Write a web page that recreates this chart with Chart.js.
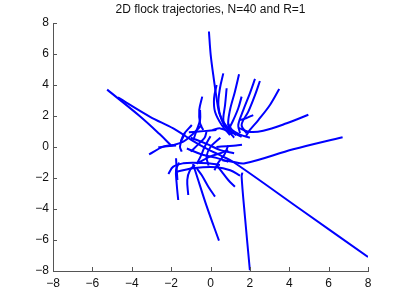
<!DOCTYPE html>
<html>
<head>
<meta charset="utf-8">
<script src="https://cdn.jsdelivr.net/npm/chart.js@4/dist/chart.umd.min.js"></script>
<style>
  html, body { margin: 0; padding: 0; background: #fff; }
  #wrap { width: 407px; height: 306px; }
</style>
</head>
<body>
<div id="wrap"><canvas id="flock"></canvas></div>
<script>
// axis ticks
const xTicks = [-8, -6, -4, -2, 0, 2, 4, 6, 8];
const yTicks = [-8, -6, -4, -2, 0, 2, 4, 6, 8];
const titleText = '2D flock trajectories, N=40 and R=1';

// trajectories, [x, y]
const bird01 = [[-0.08, 7.45], [0.01, 5.94], [0.14, 4.65], [0.31, 3.14], [0.48, 2.06], [0.9, 1.2], [1.3, 0.75]];
const bird02 = [[-5.25, 3.7], [-3.6, 2.0], [-2.6, 0.85], [-2.0, 0.1]];
const bird03 = [[-4.7, 3.2], [-3.07, 1.95], [-1.89, 1.2], [-0.96, 0.45], [-0.2, -0.1], [0.6, -0.6], [1.2, -1.0], [4.6, -4.05], [8.0, -7.1]];
const bird04 = [[6.71, 0.63], [4.2, -0.15], [1.75, -1.05], [1.1, -0.95], [0.6, -0.85]];
const bird05 = [[2.0, -7.95], [1.75, -4.5], [1.58, -1.9], [1.62, -1.65]];
const bird06 = [[0.43, -6.04], [-0.2, -3.8], [-0.79, -1.48], [-0.9, -1.1]];
const bird07 = [[4.97, 2.08], [3.87, 1.53], [2.68, 1.05], [1.92, 0.99], [1.4, 1.25]];
const bird08 = [[3.49, 3.74], [3.02, 2.71], [2.43, 1.74], [2.0, 1.1], [1.8, 0.7]];
const bird09 = [[2.26, 4.39], [2.0, 3.46], [1.67, 2.39], [1.41, 1.42], [1.5, 0.9]];
const bird10 = [[2.51, 4.26], [2.26, 3.35], [1.92, 2.28], [1.58, 1.42], [1.84, 0.88]];
const bird11 = [[1.45, 4.69], [1.24, 3.57], [0.99, 2.39], [0.9, 1.42], [1.1, 0.85]];
const bird12 = [[0.65, 4.75], [0.48, 3.79], [0.4, 2.71], [0.57, 1.74], [0.9, 1.1], [1.58, 0.66]];
const bird13 = [[0.31, 4.0], [0.18, 3.14], [0.23, 2.28], [0.57, 1.42], [0.99, 0.77]];
const bird14 = [[1.58, 3.25], [1.41, 2.5], [1.16, 1.74], [0.95, 1.2]];
const bird15 = [[0.82, 3.79], [0.74, 2.71], [0.65, 1.85], [0.7, 1.3]];
const bird16 = [[-0.42, 3.25], [-0.57, 2.39], [-0.53, 1.53], [-0.37, 1.1]];
const bird17 = [[2.17, 2.06], [1.8, 1.85], [1.5, 1.74]];
const bird18 = [[-3.12, -0.47], [-2.4, 0.02], [-1.89, 0.13], [-1.38, 0.34], [-0.95, 0.77], [-0.45, 1.42]];
const bird19 = [[-2.65, -0.02], [-2.2, 0.05], [-1.75, 0.1]];
const bird20 = [[-0.95, 1.42], [-1.38, 0.77], [-1.55, 0.02], [-1.46, -0.3]];
const bird21 = [[-0.53, 2.39], [-0.53, 1.74], [-0.7, 1.1], [-0.87, 0.45]];
const bird22 = [[-2.14, -1.74], [-1.89, -1.27], [-1.38, -1.05], [-0.87, -1.01], [-0.11, -1.05], [0.48, -1.16]];
const bird23 = [[-1.64, -3.42], [-1.72, -2.34], [-1.75, -1.48], [-1.6, -1.0]];
const bird24 = [[-1.13, -3.1], [-1.18, -2.13], [-1.04, -1.48], [-0.79, -1.16]];
const bird25 = [[0.23, -3.2], [-0.11, -2.56], [-0.45, -1.81], [-0.7, -1.37]];
const bird26 = [[1.24, -2.56], [0.9, -2.13], [0.57, -1.59], [0.31, -1.16]];
const bird27 = [[-1.75, -0.73], [-1.72, -1.4], [-1.68, -2.13]];
const bird28 = [[-1.7, -1.6], [-0.8, -1.35], [0.3, -1.3], [1.0, -1.5], [1.5, -1.85]];
const bird29 = [[-1.1, 0.95], [-0.6, 1.0], [-0.1, 1.05], [0.3, 1.1]];
const bird30 = [[-1.0, 0.6], [-0.2, 0.2], [0.5, -0.2], [1.2, -0.4]];
const bird31 = [[0.0, 0.7], [-0.3, 0.0], [-0.5, -0.6], [-0.7, -1.1]];
const bird32 = [[0.9, 0.1], [0.7, -0.5], [0.4, -1.0], [0.2, -1.5]];
const bird33 = [[0.3, 0.0], [0.8, 0.05], [1.3, 0.1], [1.6, 0.15]];
const bird34 = [[-1.2, -0.1], [-0.4, -0.5], [0.3, -0.7], [0.9, -0.95]];
const bird35 = [[0.9, 1.5], [1.1, 1.1], [1.5, 0.8], [2.0, 0.6]];
const bird36 = [[0.1, 1.1], [0.5, 1.2], [0.9, 1.0], [1.2, 0.6]];
const bird37 = [[-1.0, -0.3], [-0.6, 0.2], [-0.3, 0.6], [-0.2, 1.0]];
const bird38 = [[0.5, 0.6], [0.0, 0.0], [-0.2, -0.6], [-0.1, -1.2]];
const bird39 = [[-1.3, 0.9], [-1.4, 0.6], [-1.5, 0.35]];
const bird40 = [[-0.6, -1.0], [0.0, -0.6], [0.5, -0.4], [0.9, -0.2]];

const birds = [bird01, bird02, bird03, bird04, bird05, bird06, bird07, bird08, bird09, bird10,
  bird11, bird12, bird13, bird14, bird15, bird16, bird17, bird18, bird19, bird20,
  bird21, bird22, bird23, bird24, bird25, bird26, bird27, bird28, bird29, bird30,
  bird31, bird32, bird33, bird34, bird35, bird36, bird37, bird38, bird39, bird40];

const minus = v => String(v).replace('-', '\u2212');

// matlab style ticks pointing into the axes, title centred over the axes
const matlabLook = {
  id: 'matlabLook',
  afterDraw(chart) {
    const ctx = chart.ctx;
    const area = chart.chartArea;
    const xs = chart.scales.x, ys = chart.scales.y;
    ctx.save();
    ctx.strokeStyle = '#555';
    ctx.lineWidth = 1;
    ctx.beginPath();
    xTicks.forEach(v => {
      const px = Math.round(xs.getPixelForValue(v)) + 0.5;
      ctx.moveTo(px, area.bottom);
      ctx.lineTo(px, area.bottom - 4);
    });
    yTicks.forEach(v => {
      const py = Math.round(ys.getPixelForValue(v)) + 0.5;
      ctx.moveTo(area.left, py);
      ctx.lineTo(area.left + 4, py);
    });
    ctx.stroke();

    ctx.fillStyle = '#111';
    ctx.font = '12px "Liberation Sans", Arial, sans-serif';
    ctx.textAlign = 'center';
    ctx.textBaseline = 'middle';
    ctx.fillText(titleText, (area.left + area.right) / 2, 10);
    ctx.restore();
  }
};

document.addEventListener('DOMContentLoaded', function() {
  const datasets = birds.map(pts => ({
    data: pts.map(p => ({ x: p[0], y: p[1] })),
    showLine: true,
    borderColor: '#0000ff',
    borderWidth: 2,
    pointRadius: 0,
    tension: 0.35,
    fill: false
  }));

  new Chart(document.getElementById('flock').getContext('2d'), {
    type: 'scatter',
    data: { datasets: datasets },
    options: {
      responsive: true,
      maintainAspectRatio: false,
      animation: false,
      layout: { padding: { top: 23, right: 39 } },
      plugins: {
        legend: { display: false },
        tooltip: { enabled: false },
        title: { display: false }
      },
      scales: {
        x: {
          min: -8, max: 8,
          afterFit: s => { s.height = 35; },
          afterBuildTicks: s => { s.ticks = xTicks.map(v => ({ value: v })); },
          grid: { drawOnChartArea: false, drawTicks: false },
          border: { color: '#555', width: 1 },
          ticks: {
            padding: 5,
            color: '#111',
            font: { family: 'Liberation Sans', size: 12 },
            callback: v => minus(v)
          }
        },
        y: {
          min: -8, max: 8,
          afterFit: s => { s.width = 53; },
          afterBuildTicks: s => { s.ticks = yTicks.map(v => ({ value: v })); },
          grid: { drawOnChartArea: false, drawTicks: false },
          border: { color: '#555', width: 1 },
          ticks: {
            padding: 4,
            color: '#111',
            font: { family: 'Liberation Sans', size: 12 },
            callback: v => minus(v)
          }
        }
      }
    },
    plugins: [matlabLook]
  });
});
</script>
</body>
</html>
